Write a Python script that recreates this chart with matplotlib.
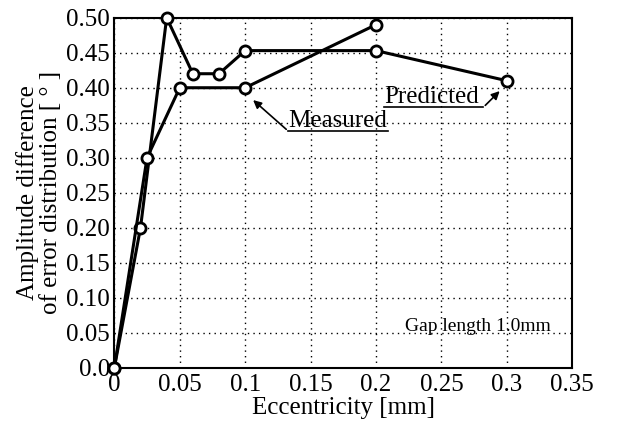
import matplotlib
matplotlib.use('Agg')
import matplotlib.pyplot as plt

# eccentricity [mm] vs amplitude difference [deg]
measured_x = [0, 0.025, 0.05, 0.1, 0.2]
measured_y = [0, 0.30, 0.40, 0.40, 0.49]
predicted_x = [0, 0.02, 0.04, 0.06, 0.08, 0.1, 0.2, 0.3]
predicted_y = [0, 0.20, 0.50, 0.42, 0.42, 0.453, 0.453, 0.41]

x_ticks = [0, 0.05, 0.1, 0.15, 0.2, 0.25, 0.3, 0.35]
x_labels = ['0', '0.05', '0.1', '0.15', '0.2', '0.25', '0.3', '0.35']
y_ticks = [0, 0.05, 0.10, 0.15, 0.20, 0.25, 0.30, 0.35, 0.40, 0.45, 0.50]
y_labels = ['0.0', '0.05', '0.10', '0.15', '0.20', '0.25', '0.30', '0.35', '0.40', '0.45', '0.50']

plt.rcParams['font.family'] = ['Liberation Serif', 'DejaVu Serif']

fig = plt.figure(figsize=(6.18, 4.21), dpi=100)
ax = fig.add_axes([0.185, 0.126, 0.741, 0.832])

style = dict(color='black', lw=2.2, marker='o', ms=8, mfc='white', mec='black', mew=2,
             clip_on=False)
ax.plot(predicted_x, predicted_y, **style, zorder=3)
ax.plot(measured_x, measured_y, **style, zorder=3)

ax.set_xlim(0, 0.35)
ax.set_ylim(0, 0.5)
ax.set_xticks(x_ticks)
ax.set_xticklabels(x_labels)
ax.set_yticks(y_ticks)
ax.set_yticklabels(y_labels)
ax.tick_params(length=0, labelsize=18, pad=3)
ax.tick_params(axis='x', pad=4)
ax.grid(True, color='black', linestyle=(0, (1, 3)), lw=1)
for sp in ax.spines.values():
    sp.set_linewidth(1.5)

ax.set_xlabel('Eccentricity [mm]', fontsize=18, labelpad=1)
ax.set_ylabel('Amplitude difference\nof error distribution [ ° ]', fontsize=18,
              linespacing=1.08, labelpad=3)

# labels with underline and arrow
ax.text(0.133, 0.344, 'Measured', fontsize=18, ha='left', va='baseline')
ax.plot([0.133, 0.209], [0.338, 0.338], color='black', lw=1.2)
ax.annotate('', xy=(0.1045, 0.385), xytext=(0.133, 0.338),
            arrowprops=dict(arrowstyle='-|>', color='black', lw=1.2, mutation_scale=12))

ax.text(0.206, 0.378, 'Predicted', fontsize=18, ha='left', va='baseline')
ax.plot([0.206, 0.282], [0.372, 0.372], color='black', lw=1.2)
ax.annotate('', xy=(0.296, 0.398), xytext=(0.282, 0.372),
            arrowprops=dict(arrowstyle='-|>', color='black', lw=1.2, mutation_scale=12))

ax.text(0.222, 0.059, 'Gap length 1.0mm', fontsize=14, ha='left', va='center')

fig.savefig('out.png', dpi=100)
